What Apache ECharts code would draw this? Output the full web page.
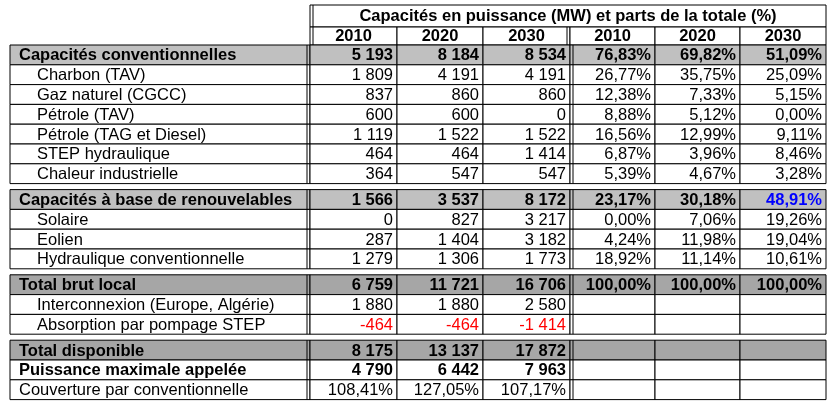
<!DOCTYPE html>
<html><head><meta charset="utf-8">
<script src="https://cdn.jsdelivr.net/npm/echarts@6/dist/echarts.min.js"></script>
<style>html,body{margin:0;padding:0;background:#fff}#c{width:837px;height:403px}</style>
</head><body><div id="c"></div>
<script>
const title = 'Capacités en puissance (MW) et parts de la totale (%)';
const years = ['2010','2020','2030','2010','2020','2030'];
const rowLabels = ['Capacités conventionnelles','Charbon (TAV)','Gaz naturel (CGCC)','Pétrole (TAV)','Pétrole (TAG et Diesel)','STEP hydraulique','Chaleur industrielle',
 'Capacités à base de renouvelables','Solaire','Eolien','Hydraulique conventionnelle',
 'Total brut local','Interconnexion (Europe, Algérie)','Absorption par pompage STEP',
 'Total disponible','Puissance maximale appelée','Couverture par conventionnelle'];
const rowKind = ['grey','sub','sub','sub','sub','sub','sub','grey','sub','sub','sub','dark','sub','sub','dark','bold','plain'];
const mw2010 = ['5 193','1 809','837','600','1 119','464','364','1 566','0','287','1 279','6 759','1 880','-464','8 175','4 790','108,41%'];
const mw2020 = ['8 184','4 191','860','600','1 522','464','547','3 537','827','1 404','1 306','11 721','1 880','-464','13 137','6 442','127,05%'];
const mw2030 = ['8 534','4 191','860','0','1 522','1 414','547','8 172','3 217','3 182','1 773','16 706','2 580','-1 414','17 872','7 963','107,17%'];
const pct2010 = ['76,83%','26,77%','12,38%','8,88%','16,56%','6,87%','5,39%','23,17%','0,00%','4,24%','18,92%','100,00%','','','','',''];
const pct2020 = ['69,82%','35,75%','7,33%','5,12%','12,99%','3,96%','4,67%','30,18%','7,06%','11,98%','11,14%','100,00%','','','','',''];
const pct2030 = ['51,09%','25,09%','5,15%','0,00%','9,11%','8,46%','3,28%','48,91%','19,26%','19,04%','10,61%','100,00%','','','','',''];
const gapsAfter = [6,10,13];

const colX = [10,310,397,483,570,655,740,826];
const rowH = 19.8, top0 = 45, gap = 6;
const els = [];
const font = 'Liberation Sans, Arial, sans-serif';
function txt(x,y,s,opt){els.push({type:'text',x:x,y:y,silent:true,style:{text:s,font:(opt.bold?'bold ':'')+'16.5px '+font,fill:opt.color||'#000',textAlign:opt.align||'left',textVerticalAlign:'middle'}});}
function rect(x,y,w,h,fill){els.push({type:'rect',shape:{x:x,y:y,width:w,height:h},style:{fill:fill||'none',stroke:'#000',lineWidth:1}});}
function line(x1,y1,x2,y2){els.push({type:'line',shape:{x1:x1,y1:y1,x2:x2,y2:y2},style:{stroke:'#000',lineWidth:1}});}
rect(colX[1],5,colX[7]-colX[1],22,'#fff');
txt((colX[1]+colX[7])/2,16,title,{bold:true,align:'center'});
for(let c=0;c<6;c++){rect(colX[c+1],27,colX[c+2]-colX[c+1],18,'#fff');txt((colX[c+1]+colX[c+2])/2,36,years[c],{bold:true,align:'center'});}
line(colX[1]+3,5,colX[1]+3,45);line(colX[4]-3,27,colX[4]-3,45);
let y=top0, groupStart=top0;
const cols=[mw2010,mw2020,mw2030,pct2010,pct2020,pct2030];
rowLabels.forEach((lab,i)=>{
  const k=rowKind[i];
  const fill = k==='grey'?'#c0c0c0':(k==='dark'?'#a6a6a6':'#fff');
  rect(colX[0],y,colX[1]-colX[0],rowH,fill);
  const bold = k!=='sub'&&k!=='plain';
  txt(k==='sub'?colX[0]+27:colX[0]+9,y+rowH/2+1,lab,{bold:bold});
  for(let c=0;c<6;c++){
    const x0=colX[c+1],x1=colX[c+2];
    const cf = (k==='dark'||k==='grey')?fill:'#fff';
    rect(x0,y,x1-x0,rowH,cf);
    const v=cols[c][i];
    let color='#000';
    if(v.charAt(0)==='-')color='#ff0000';
    if(i===7&&c===5)color='#0000ff';
    if(v)txt(x1-4,y+rowH/2+1,v,{bold:bold,align:'right',color:color});
  }
  y+=rowH;
  if(gapsAfter.includes(i)||i===rowLabels.length-1){
    line(colX[1]-3,groupStart,colX[1]-3,y);line(colX[4]+3,groupStart,colX[4]+3,y);
    y+=gap; groupStart=y;
  }
});
const chart=echarts.init(document.getElementById('c'),null,{renderer:'canvas'});
chart.setOption({animation:false,graphic:{elements:els}});
</script></body></html>
